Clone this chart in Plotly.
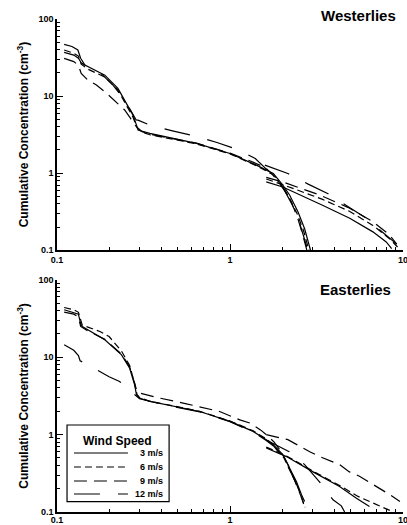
import plotly.graph_objects as go

# ---------------- Westerlies (top panel) ----------------
W3_x = [0.110, 0.122, 0.132, 0.137, 0.145, 0.189, 0.225, 0.252, 0.275, 0.288, 0.294, 0.344, 0.64, 1.0, 1.14, 1.42, 1.78, 2.02, 2.21, 2.47, 2.70, 2.92,
        None, 1.62, 2.02, 3.45, 4.92, 6.7, 8.0, 8.6]
W3_y = [46.9, 44.0, 39.6, 30.9, 25.3, 18.7, 12.6, 8.0, 5.66, 4.2, 3.62, 3.28, 2.43, 1.80, 1.58, 1.27, 0.99, 0.70, 0.52, 0.315, 0.19, 0.10,
        None, 0.77, 0.66, 0.38, 0.26, 0.173, 0.128, 0.105]

W6_x = [0.110, 0.125, 0.133, 0.138, 0.150, 0.190, 0.225, 0.252, 0.275, 0.290, 0.310, 0.344, 0.64, 1.0, 1.14, 1.42, 1.75, 2.0, 2.18, 2.44, 2.66, 2.86,
        None, 1.62, 2.05, 3.4, 4.9, 6.7, 8.4, 9.3]
W6_y = [39.6, 36.0, 33.0, 26.0, 22.5, 17.5, 12.0, 7.6, 5.3, 3.9, 3.4, 3.15, 2.40, 1.78, 1.55, 1.25, 0.97, 0.68, 0.50, 0.30, 0.18, 0.10,
        None, 0.84, 0.70, 0.46, 0.32, 0.21, 0.14, 0.11]

W9_x = [0.110, 0.125, 0.133, 0.138, 0.151, 0.169, 0.189, 0.220, 0.246, 0.265, 0.285, 0.310, 0.344, 0.64, 1.0, 1.3, 1.6, 1.82, 2.05, 2.25, 2.45, 2.63, 2.78,
        None, 1.62, 2.05, 3.3, 4.8, 6.6, 8.3, 9.2]
W9_y = [30.9, 28.0, 25.0, 19.7, 16.1, 13.9, 11.4, 8.4, 6.6, 5.2, 4.1, 3.45, 3.2, 2.45, 1.82, 1.45, 1.18, 0.90, 0.62, 0.43, 0.27, 0.16, 0.10,
        None, 0.88, 0.76, 0.52, 0.36, 0.24, 0.16, 0.12]

W12_x = [0.110, 0.125, 0.133, 0.138, 0.150, 0.180, 0.210, 0.245, 0.270, 0.287, 0.294, 0.344, 0.465, 0.625, 0.841, 1.127, 1.4, 1.6, 1.85, 2.08, 2.3, 2.55, 2.78,
         None, 1.59, 2.16, 2.83, 3.69, 4.8, 6.14, 7.65, 9.2]
W12_y = [36.9, 34.0, 31.0, 27.0, 24.0, 19.5, 14.0, 9.0, 6.2, 4.9, 4.88, 4.2, 3.54, 3.03, 2.5, 1.99, 1.55, 1.15, 0.85, 0.58, 0.38, 0.21, 0.11,
         None, 1.27, 0.99, 0.72, 0.54, 0.37, 0.26, 0.17, 0.12]

# ---------------- Easterlies (bottom panel) ----------------
E3_x = [0.110, 0.125, 0.133, 0.137, 0.140, 0.189, 0.236, 0.263, 0.281, 0.288, 0.300, 0.344, 0.429, 0.668, 1.0, 1.36, 1.62, 1.78, 2.02, 2.21, 2.42, 2.59, 2.70,
        None, 1.62, 2.12, 3.02, 4.3, 5.38, 6.4]
E3_y = [41.0, 38.0, 36.0, 27.0, 24.9, 16.8, 10.7, 7.2, 4.4, 3.27, 2.96, 2.68, 2.43, 1.99, 1.48, 1.10, 0.86, 0.74, 0.55, 0.37, 0.248, 0.167, 0.137,
        None, 0.67, 0.52, 0.33, 0.213, 0.151, 0.118]

E6_x = [0.110, 0.125, 0.133, 0.137, 0.140, 0.177, 0.200, 0.236, 0.263, 0.281, 0.290, 0.300, 0.344, 0.429, 0.668, 1.0, 1.36, 1.62, 1.80, 2.05, 2.25, 2.45, 2.60, 2.72,
        None, 1.62, 2.12, 3.0, 4.3, 5.5, 7.0, 8.0, 8.8]
E6_y = [43.9, 41.0, 38.0, 30.0, 26.0, 21.5, 18.5, 12.0, 7.8, 4.6, 3.3, 3.0, 2.7, 2.45, 2.0, 1.5, 1.12, 0.88, 0.72, 0.50, 0.33, 0.22, 0.15, 0.115,
        None, 0.69, 0.53, 0.34, 0.22, 0.159, 0.125, 0.112, 0.10]

E9_x = [0.110, 0.125, 0.133, 0.137, 0.150, 0.189, 0.236, 0.263, 0.281, 0.290, 0.300, 0.393, 0.56, 0.871, 1.14, 1.30, 1.50, 1.62, 1.80, 2.0, 2.2, 2.4, 2.6, 2.72,
        None, 1.62, 1.85, 2.16, 2.89, 3.3, 4.3, 4.9, 5.6, 6.56, 7.3, 8.4, 9.6]
E9_y = [38.3, 36.0, 33.0, 25.0, 22.0, 17.0, 11.0, 7.5, 4.6, 3.6, 3.44, 2.96, 2.5, 1.99, 1.55, 1.41, 1.15, 1.0, 0.80, 0.58, 0.38, 0.24, 0.15, 0.11,
        None, 1.0, 0.94, 0.86, 0.60, 0.52, 0.41, 0.33, 0.29, 0.236, 0.204, 0.167, 0.137]

E12_x = [0.110, 0.125, 0.133, 0.136, 0.150, 0.177, 0.200, 0.230, 0.300, 0.430, 0.668, 1.0, 1.36, 1.62, 1.80, 2.0, 2.2, 2.4, 2.6, 2.66,
         None, 1.62, 2.2, 2.7, 3.3, 3.94, 4.4, 4.6]
E12_y = [14.5, 12.3, 10.5, 9.0, 8.0, 6.5, 5.6, 4.85, 2.9, 2.4, 1.97, 1.47, 1.08, 0.84, 0.70, 0.52, 0.36, 0.24, 0.16, 0.14,
         None, 0.85, 0.60, 0.41, 0.243, 0.144, 0.12, 0.10]

speeds = ["3 m/s", "6 m/s", "9 m/s", "12 m/s"]
dashes = ["solid", "7px,4px", "13px,7px", "26px,18px"]
west = [(W3_x, W3_y), (W6_x, W6_y), (W9_x, W9_y), (W12_x, W12_y)]
east = [(E3_x, E3_y), (E6_x, E6_y), (E9_x, E9_y), (E12_x, E12_y)]

FONT = "Liberation Sans, Arial, sans-serif"

fig = go.Figure()
for i, name in enumerate(speeds):
    fig.add_trace(go.Scatter(x=west[i][0], y=west[i][1], mode="lines", name=name,
                             line=dict(color="black", width=1.2, dash=dashes[i]),
                             xaxis="x", yaxis="y", showlegend=False, connectgaps=False))
for i, name in enumerate(speeds):
    fig.add_trace(go.Scatter(x=east[i][0], y=east[i][1], mode="lines", name=name,
                             line=dict(color="black", width=1.2, dash=dashes[i]),
                             xaxis="x2", yaxis="y2", showlegend=False, connectgaps=False))

minor_x = [m * 10 ** e for e in (-1, 0) for m in range(2, 10)]
minor_y = [m * 10 ** e for e in (-1, 0, 1) for m in range(2, 10)]

tfont = dict(family=FONT, size=9, color="black", weight="bold")

def xax(anchor, standoff=0):
    return dict(type="log", range=[-1, 1], anchor=anchor, showline=True, linecolor="black", linewidth=1.5,
                ticks="inside", ticklen=6, tickwidth=1, tickcolor="black",
                tickvals=[0.1, 1, 10], ticktext=["0.1", "1", "10"], tickfont=tfont,
                ticklabeloverflow="allow", automargin=False, ticklabelstandoff=standoff,
                minor=dict(tickvals=minor_x, ticks="inside", ticklen=3, tickcolor="black", tickwidth=1, showgrid=False),
                showgrid=False, zeroline=False)

def yax(anchor, domain):
    return dict(type="log", range=[-1, 2], anchor=anchor, domain=domain, showline=True, linecolor="black", linewidth=1.5,
                ticks="inside", ticklen=6, tickwidth=1, tickcolor="black",
                tickvals=[0.1, 1, 10, 100], ticktext=["0.1", "1", "10", "100"], tickfont=tfont,
                ticklabeloverflow="allow", automargin=False,
                minor=dict(tickvals=minor_y, ticks="inside", ticklen=3, tickcolor="black", tickwidth=1, showgrid=False),
                showgrid=False, zeroline=False,
                title=dict(text="Cumulative Concentration (cm<sup>-3</sup>)", standoff=7,
                           font=dict(family=FONT, size=12, color="black", weight="bold")))

# Legend box (drawn in the lower panel), built from the series names and dash styles
shapes = [dict(type="rect", xref="paper", yref="paper", x0=0.029, x1=0.324, y0=0.021, y1=0.1765,
               line=dict(color="black", width=1.2), fillcolor="white", layer="above")]
annotations = [
    dict(text="Westerlies", x=0.985, y=1.008, xref="paper", yref="paper", xanchor="right", yanchor="middle",
         showarrow=False, font=dict(family=FONT, size=15, color="black", weight="bold")),
    dict(text="Easterlies", x=0.972, y=0.452, xref="paper", yref="paper", xanchor="right", yanchor="middle",
         showarrow=False, font=dict(family=FONT, size=15, color="black", weight="bold")),
    dict(text="Wind Speed", x=0.176, y=0.144, xref="paper", yref="paper", xanchor="center", yanchor="middle",
         showarrow=False, font=dict(family=FONT, size=12, color="black", weight="bold")),
]
row_y = [0.1197, 0.0913, 0.0629, 0.0365]
for i, name in enumerate(speeds):
    shapes.append(dict(type="line", xref="paper", yref="paper", x0=0.049, x1=0.205, y0=row_y[i], y1=row_y[i],
                       line=dict(color="black", width=1.2, dash=dashes[i]), layer="above"))
    annotations.append(dict(text=name, x=0.312, y=row_y[i], xref="paper", yref="paper", xanchor="right",
                            yanchor="middle", showarrow=False,
                            font=dict(family=FONT, size=9, color="black", weight="bold")))

fig.update_layout(
    width=407, height=525,
    margin=dict(l=57, r=4, t=19, b=13),
    paper_bgcolor="white", plot_bgcolor="white",
    showlegend=False,
    xaxis=xax("y"),
    yaxis=yax("x", [0.531, 1.0]),
    xaxis2=xax("y2", -2),
    yaxis2=yax("x2", [0.0, 0.471]),
    shapes=shapes,
    annotations=annotations,
)

fig.write_html("out.html")
